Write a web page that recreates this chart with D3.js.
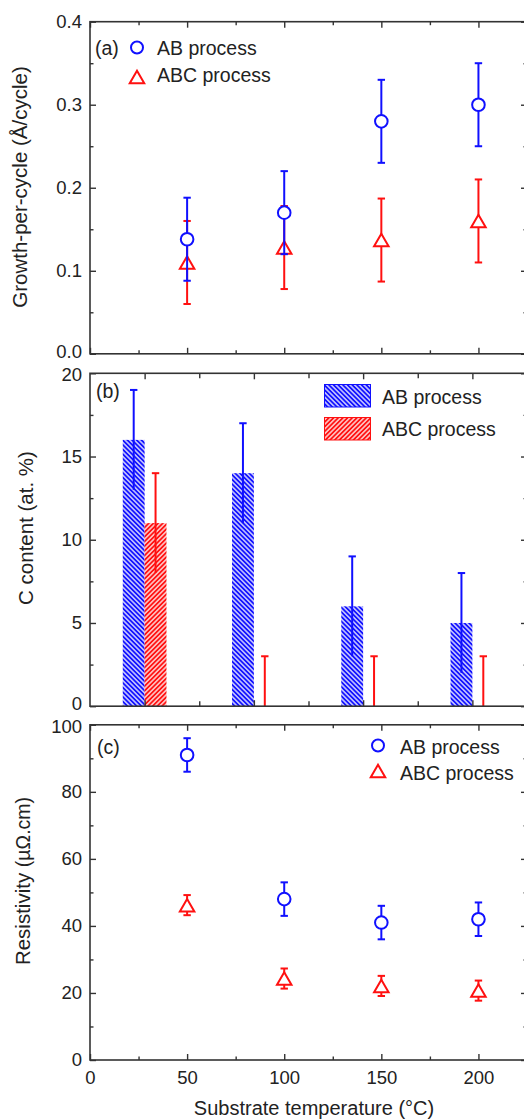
<!DOCTYPE html>
<html>
<head>
<meta charset="utf-8">
<script src="https://cdn.jsdelivr.net/npm/d3@7"></script>
<style>
  html, body { margin: 0; padding: 0; background: #fff; }
  svg { display: block; font-family: "Liberation Sans", Arial, Helvetica, sans-serif; }
</style>
</head>
<body>
<svg id="chart" width="524" height="1120"></svg>
<script>
// Substrate temperatures (°C)
const temperatures = [50, 100, 150, 200];

// (a) growth-per-cycle (Å/cycle)
const gpcAB = [0.138, 0.17, 0.28, 0.30];
const gpcABErr = [0.05, 0.05, 0.05, 0.05];
const gpcABC = [0.11, 0.128, 0.137, 0.16];
const gpcABCErr = [0.05, 0.05, 0.05, 0.05];

// (b) carbon content (at. %)
const carbonAB = [16, 14, 6, 5];
const carbonABErr = [3, 3, 3, 3];
const carbonABC = [11, 0, 0, 0];
const carbonABCErr = [3, 3, 3, 3];

// (c) resistivity (µΩ.cm)
const resAB = [91, 48, 41, 42];
const resABErr = [5, 5, 5, 5];
const resABC = [46.2, 24.3, 22.1, 20.7];
const resABCErr = [3, 3, 3, 3];

// Tick values
const tempTicks = [0, 50, 100, 150, 200];
const tempMinor = [25, 75, 125, 175, 225];
const gpcTicks = [0.0, 0.1, 0.2, 0.3, 0.4];
const gpcMinor = [0.05, 0.15, 0.25, 0.35];
const carbonTicks = [0, 5, 10, 15, 20];
const carbonMinor = [2.5, 7.5, 12.5, 17.5];
const resTicks = [0, 20, 40, 60, 80, 100];
const resMinor = [10, 30, 50, 70, 90];

const seriesNames = ["AB process", "ABC process"];

const BLUE = "#1010ff";
const RED = "#ff1010";
const AXIS = "#333";
const TEXT = "#222";

const svg = d3.select("#chart");
const X0 = 90, X1 = 527;

const x = d3.scaleLinear().domain([0, 225]).range([X0, X1]);
const xBand = d3.scaleBand().domain(temperatures).range([X0, X1]).padding(0);
const xPix = d3.scaleLinear().domain([X0, X1]).range([X0, X1]);

const panels = {
  a: { top: 21.7, bottom: 353.8 },
  b: { top: 373.3, bottom: 706.2 },
  c: { top: 724.8, bottom: 1060 }
};

const yA = d3.scaleLinear().domain([0, 0.4]).range([panels.a.bottom, panels.a.top]);
const yB = d3.scaleLinear().domain([0, 20]).range([panels.b.bottom, panels.b.top]);
const yC = d3.scaleLinear().domain([0, 100]).range([panels.c.bottom, panels.c.top]);

// hatch patterns for the bars
const defs = svg.append("defs");
function hatch(id, color, angle) {
  const p = defs.append("pattern")
    .attr("id", id)
    .attr("patternUnits", "userSpaceOnUse")
    .attr("width", 3.3).attr("height", 3.3)
    .attr("patternTransform", `rotate(${angle})`);
  p.append("rect").attr("width", 3.3).attr("height", 3.3).attr("fill", color);
  p.append("line").attr("x1", 1.65).attr("x2", 1.65).attr("y1", 0).attr("y2", 3.3)
    .attr("stroke", "#fff").attr("stroke-width", 1.2);
}
hatch("hatchAB", BLUE, -45);
hatch("hatchABC", RED, 45);

function styleAxis(g) {
  g.select(".domain").remove();
  g.selectAll(".tick line").attr("stroke", AXIS).attr("stroke-width", 1.4);
  g.selectAll(".tick text").attr("fill", TEXT).style("font-size", "18.5px");
}

function frame(p, xs, y, opts) {
  const g = svg.append("g");
  const xMajor = opts.xMajor, xMinor = opts.xMinor;
  // left axis, with per-label vertical nudges where neighbouring panels meet
  g.append("g").attr("transform", `translate(${X0},0)`)
    .call(d3.axisLeft(y).tickValues(opts.yMajor).tickSize(-6).tickPadding(8).tickFormat(opts.yFmt))
    .call(styleAxis)
    .call(a => a.selectAll(".tick text")
      .attr("transform", d => `translate(0,${(opts.nudge && opts.nudge[d]) || 0})`));
  g.append("g").attr("transform", `translate(${X0},0)`)
    .call(d3.axisLeft(y).tickValues(opts.yMinor).tickSize(-3.5).tickFormat(""))
    .call(styleAxis);
  // right axis
  g.append("g").attr("transform", `translate(${X1},0)`)
    .call(d3.axisRight(y).tickValues(opts.yMajor).tickSize(-6).tickFormat(""))
    .call(styleAxis);
  g.append("g").attr("transform", `translate(${X1},0)`)
    .call(d3.axisRight(y).tickValues(opts.yMinor).tickSize(-3.5).tickFormat(""))
    .call(styleAxis);
  // bottom axis
  g.append("g").attr("transform", `translate(0,${p.bottom})`)
    .call(d3.axisBottom(xs).tickValues(xMajor).tickSize(-6).tickPadding(11)
      .tickFormat(opts.xLabels ? d3.format("d") : ""))
    .call(styleAxis);
  g.append("g").attr("transform", `translate(0,${p.bottom})`)
    .call(d3.axisBottom(xs).tickValues(xMinor).tickSize(-opts.xMinorLen).tickFormat(""))
    .call(styleAxis);
  // top axis
  g.append("g").attr("transform", `translate(0,${p.top})`)
    .call(d3.axisTop(xs).tickValues(xMajor).tickSize(-6).tickFormat(""))
    .call(styleAxis);
  g.append("g").attr("transform", `translate(0,${p.top})`)
    .call(d3.axisTop(xs).tickValues(xMinor).tickSize(-opts.xMinorLen).tickFormat(""))
    .call(styleAxis);
  // frame
  g.append("rect")
    .attr("x", X0).attr("y", p.top)
    .attr("width", X1 - X0).attr("height", p.bottom - p.top)
    .attr("fill", "none").attr("stroke", AXIS).attr("stroke-width", 1.6);
  return g;
}

function errorBar(g, cx, lo, hi, color, caps) {
  g.append("line").attr("x1", cx).attr("x2", cx).attr("y1", lo).attr("y2", hi)
    .attr("stroke", color).attr("stroke-width", 2);
  const w = 3.7;
  caps.forEach(cy => {
    g.append("line").attr("x1", cx - w).attr("x2", cx + w).attr("y1", cy).attr("y2", cy)
      .attr("stroke", color).attr("stroke-width", 2);
  });
}

function circleMark(g, cx, cy, r) {
  g.append("circle").attr("cx", cx).attr("cy", cy).attr("r", r || 6.3)
    .attr("fill", "#fff").attr("stroke", BLUE).attr("stroke-width", 2);
}
function triangleMark(g, cx, cy, s) {
  const w = (s || 1) * 14.5, h = (s || 1) * 12.5;
  g.append("path")
    .attr("d", `M${cx},${cy - h / 2}L${cx + w / 2},${cy + h / 2}L${cx - w / 2},${cy + h / 2}Z`)
    .attr("fill", "#fff").attr("stroke", RED).attr("stroke-width", 2)
    .attr("stroke-linejoin", "miter");
}

function scatterPanel(y, abVals, abErr, abcVals, abcErr) {
  const g = svg.append("g");
  temperatures.forEach((t, i) => {
    const lo = y(abcVals[i] - abcErr[i]), hi = y(abcVals[i] + abcErr[i]);
    errorBar(g, x(t), lo, hi, RED, [lo, hi]);
  });
  temperatures.forEach((t, i) => triangleMark(g, x(t), y(abcVals[i])));
  temperatures.forEach((t, i) => {
    const lo = y(abVals[i] - abErr[i]), hi = y(abVals[i] + abErr[i]);
    errorBar(g, x(t), lo, hi, BLUE, [lo, hi]);
  });
  temperatures.forEach((t, i) => circleMark(g, x(t), y(abVals[i])));
  return g;
}

// ---------- (a) growth per cycle ----------
scatterPanel(yA, gpcAB, gpcABErr, gpcABC, gpcABCErr);
frame(panels.a, x, yA, {
  yMajor: gpcTicks, yMinor: gpcMinor, yFmt: d3.format(".1f"),
  xMajor: tempTicks, xMinor: tempMinor, xMinorLen: 3.5, xLabels: false,
  nudge: { 0: -2 }
});

// ---------- (b) carbon content ----------
const gb = svg.append("g");
const barW = xBand.bandwidth() * 0.2;
temperatures.forEach((t, i) => {
  const c = xBand(t) + xBand.bandwidth() / 2;
  gb.append("rect").attr("x", c - barW).attr("width", barW)
    .attr("y", yB(carbonAB[i])).attr("height", yB(0) - yB(carbonAB[i]))
    .attr("fill", "url(#hatchAB)");
  if (carbonABC[i] > 0) {
    gb.append("rect").attr("x", c).attr("width", barW)
      .attr("y", yB(carbonABC[i])).attr("height", yB(0) - yB(carbonABC[i]))
      .attr("fill", "url(#hatchABC)");
  }
});
temperatures.forEach((t, i) => {
  const c = xBand(t) + xBand.bandwidth() / 2;
  const ab = c - barW / 2, abc = c + barW / 2;
  errorBar(gb, ab, yB(Math.max(0, carbonAB[i] - carbonABErr[i])), yB(carbonAB[i] + carbonABErr[i]),
    BLUE, [yB(carbonAB[i] + carbonABErr[i])]);
  errorBar(gb, abc, yB(Math.max(0, carbonABC[i] - carbonABCErr[i])), yB(carbonABC[i] + carbonABCErr[i]),
    RED, [yB(carbonABC[i] + carbonABCErr[i])]);
});
const bandCenters = temperatures.map(t => xBand(t) + xBand.bandwidth() / 2);
const bandEdges = temperatures.slice(1).map(t => xBand(t));
frame(panels.b, xPix, yB, {
  yMajor: carbonTicks, yMinor: carbonMinor, yFmt: d3.format("d"),
  xMajor: bandCenters, xMinor: bandEdges, xMinorLen: 5, xLabels: false,
  nudge: { 0: -2.5, 20: 1.5 }
});

// ---------- (c) resistivity ----------
scatterPanel(yC, resAB, resABErr, resABC, resABCErr);
frame(panels.c, x, yC, {
  yMajor: resTicks, yMinor: resMinor, yFmt: d3.format("d"),
  xMajor: tempTicks, xMinor: tempMinor, xMinorLen: 3.5, xLabels: true,
  nudge: { 100: 1.5 }
});

// ---------- labels and legends ----------
const T = (xx, yy, txt, size, anchor) => svg.append("text")
  .attr("x", xx).attr("y", yy).attr("fill", TEXT)
  .attr("text-anchor", anchor || "start")
  .style("font-size", (size || 19) + "px").text(txt);

// (a)
T(95, 55, "(a)", 19.5);
circleMark(svg, 137, 47.5, 6);
T(157, 55, seriesNames[0], 19.5);
triangleMark(svg, 137, 77, 1);
T(157, 81.5, seriesNames[1], 19.5);

// (b)
T(96, 398, "(b)", 19.5);
svg.append("rect").attr("x", 324.5).attr("y", 384.5).attr("width", 46).attr("height", 22.5)
  .attr("fill", "url(#hatchAB)").attr("stroke", BLUE).attr("stroke-width", 1);
T(382, 403.5, seriesNames[0], 19.5);
svg.append("rect").attr("x", 324.5).attr("y", 417.5).attr("width", 46).attr("height", 22.5)
  .attr("fill", "url(#hatchABC)").attr("stroke", RED).attr("stroke-width", 1);
T(382, 436, seriesNames[1], 19.5);

// (c)
T(97, 754, "(c)", 19.5);
circleMark(svg, 378, 745.5, 6);
T(400, 753.5, seriesNames[0], 19.5);
triangleMark(svg, 378, 771, 1);
T(400, 779.5, seriesNames[1], 19.5);

// axis titles
function yTitle(cx, cy, parts) {
  const t = svg.append("text")
    .attr("transform", `translate(${cx},${cy}) rotate(-90)`)
    .attr("text-anchor", "middle").attr("dy", "0.35em").attr("fill", TEXT);
  parts.forEach(([txt, size]) => t.append("tspan").style("font-size", size + "px").text(txt));
}
yTitle(21.5, 187, [["Growth-per-cycle (Å/cycle)", 20.5]]);
yTitle(27, 528, [["C content (at. %)", 20.5]]);
yTitle(24, 881, [["Resistivity ", 20.5], ["(µΩ.cm)", 19.5]]);

T(314, 1115, "Substrate temperature (°C)", 20, "middle");
</script>
</body>
</html>
